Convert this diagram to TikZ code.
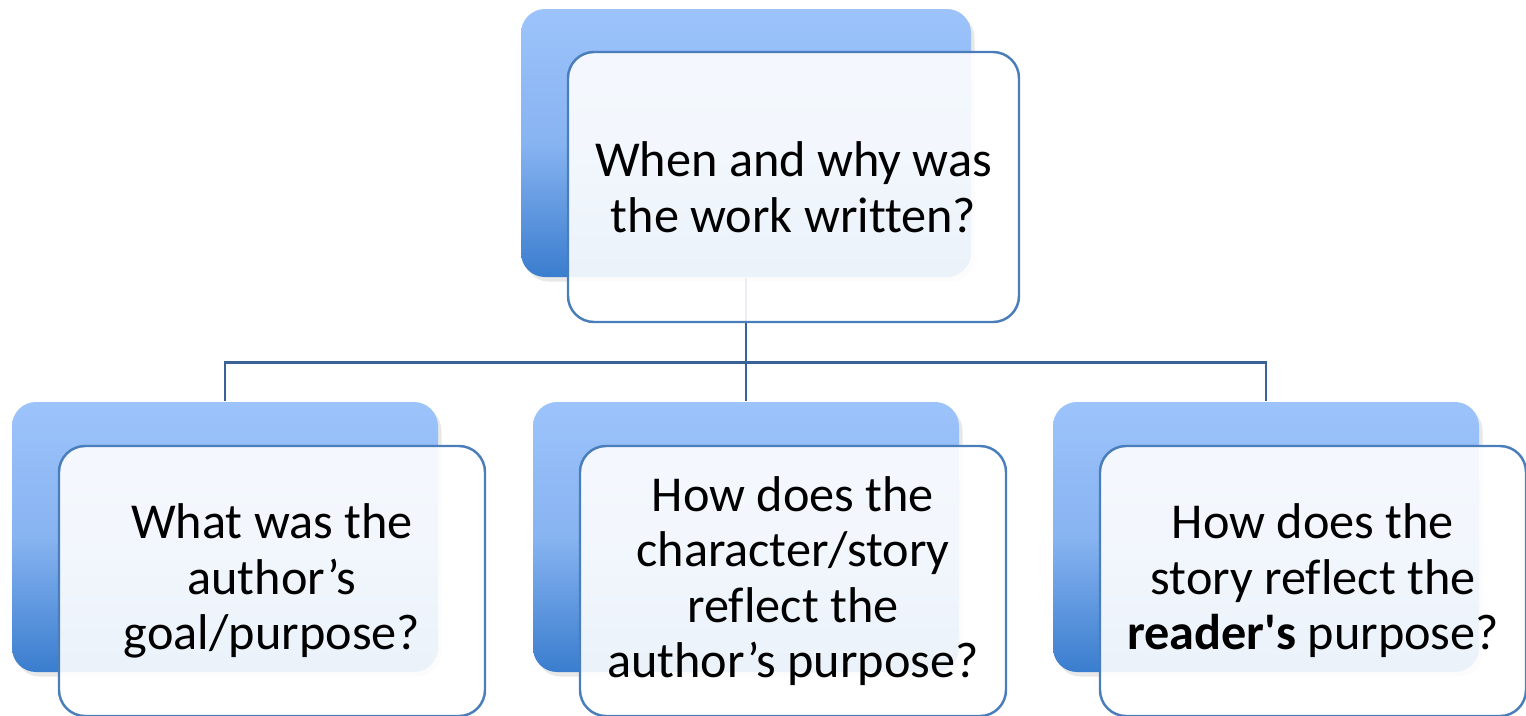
\documentclass[tikz,border=0pt]{standalone}
\usepackage{fontspec}
\setmainfont{Carlito}[Ligatures={TeX,NoCommon}]
\usetikzlibrary{shadows}
\definecolor{backtop}{RGB}{157,195,251}
\definecolor{backbot}{RGB}{58,125,206}
\definecolor{frontline}{RGB}{74,126,187}
\definecolor{linkline}{RGB}{58,98,150}
\tikzset{
  backbox/.style={rounded corners=0.24cm, top color=backtop, bottom color=backbot,
    middle color=backtop!78!backbot, minimum height=2.70cm,
    drop shadow={shadow xshift=0.035cm, shadow yshift=-0.045cm, opacity=0.18}},
  frontbox/.style={draw=frontline, line width=0.7pt, rounded corners=0.26cm,
    fill=white, fill opacity=0.9, text opacity=1, align=center,
    font=\fontsize{14.3}{15.8}\selectfont, minimum height=2.70cm},
  link/.style={draw=linkline, line width=0.75pt}
}
\begin{document}
\begin{tikzpicture}
  \useasboundingbox (0,0) rectangle (15.26,-7.15);
  % Back boxes
  \node[backbox, minimum width=4.50cm, minimum height=2.68cm] (backtop) at (7.46,-1.43) {};
  \foreach \n/\x in {left/2.25, mid/7.46, right/12.66}
    \node[backbox, minimum width=4.26cm] (back\n) at (\x,-5.37) {};
  % Connectors
  \coordinate (bus) at ([yshift=-0.85cm]backtop.south);
  \draw[link] (backtop.south) -- (bus);
  \foreach \n in {left, mid, right}
    \draw[link] (bus) -| (back\n.north);
  % Question boxes
  \node[frontbox, minimum width=4.51cm] (topq) at ([shift={(0.475,-0.44)}]backtop.center)
    {When and why was\\the work written?};
  \node[frontbox, minimum width=4.26cm] (leftq) at ([shift={(0.47,-0.44)}]backleft.center)
    {What was the\\author’s\\goal/purpose?};
  \node[frontbox, minimum width=4.26cm] (midq) at ([shift={(0.47,-0.44)}]backmid.center)
    {How does the\\character/story\\reflect the\\author’s purpose?};
  \node[frontbox, minimum width=4.26cm] (rightq) at ([shift={(0.47,-0.44)}]backright.center)
    {How does the\\story reflect the\\\textbf{reader\textquotesingle s} purpose?};
\end{tikzpicture}
\end{document}
